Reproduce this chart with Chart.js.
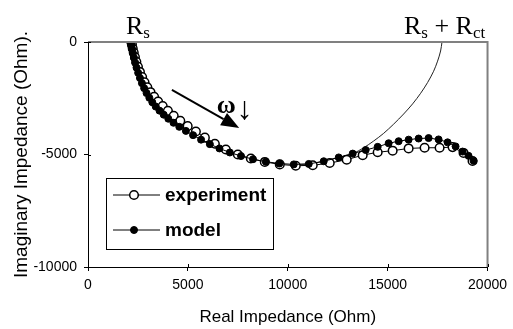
<!DOCTYPE html>
<html>
<head>
<meta charset="utf-8">
<script src="https://cdn.jsdelivr.net/npm/chart.js@4.4.0/dist/chart.umd.min.js"></script>
<style>
  html, body { margin: 0; padding: 0; background: #fff; }
  #wrap { width: 513px; height: 329px; }
</style>
</head>
<body>
<div id="wrap"><canvas id="chart" width="513" height="329"></canvas></div>
<script>
// Nyquist plot, impedance in Ohm
var expRe = [2170, 2200, 2240, 2290, 2350, 2420, 2500, 2600, 2710, 2830, 2970, 3130, 3310, 3510, 3740, 4000, 4290, 4620, 4990, 5400,
             5850, 6350, 6900, 7500, 8150, 8850, 9600, 10400, 11250, 12100, 12950, 13750, 14500, 15250, 16050, 16850, 17600, 18250, 18800, 19250];
var expIm = [0, -130, -290, -470, -670, -880, -1100, -1330, -1560, -1790, -2010, -2230, -2440, -2650, -2850, -3060, -3280, -3500, -3740, -3980,
             -4250, -4520, -4780, -5000, -5180, -5330, -5440, -5500, -5480, -5380, -5230, -5030, -4900, -4830, -4730, -4700, -4700, -4670, -4930, -5290];

var modelRe = [2150, 2180, 2210, 2250, 2300, 2360, 2430, 2510, 2600, 2700, 2810, 2930, 3070, 3220, 3390, 3580, 3790, 4020, 4280, 4570,
               4900, 5260, 5660, 6100, 6580, 7100, 7660, 8260, 8900, 9580, 10300, 11050, 11800, 12550, 13250, 13900, 14500, 15050, 15550, 16050,
               16550, 17050, 17550, 18000, 18400, 18750, 19050, 19300];
var modelIm = [0, -150, -320, -500, -700, -920, -1140, -1370, -1600, -1830, -2050, -2270, -2480, -2680, -2870, -3050, -3230, -3410, -3590, -3770,
               -3950, -4140, -4340, -4540, -4730, -4910, -5070, -5210, -5320, -5400, -5440, -5420, -5300, -5130, -4960, -4800, -4660, -4500, -4410, -4340,
               -4290, -4270, -4330, -4460, -4640, -4870, -5060, -5280];

// thin arc running up to Rs + Rct
var arcRe = [10300, 11050, 11800, 12550, 13250, 13800, 14300, 14800, 15300, 15800, 16250, 16650, 17000, 17300, 17500, 17650, 17720];
var arcIm = [-5440, -5420, -5300, -5130, -4960, -4700, -4400, -4060, -3650, -3200, -2750, -2280, -1800, -1300, -850, -400, 0];

var xTicks = [0, 5000, 10000, 15000, 20000];
var yTicks = [0, -5000, -10000];

var SANS = '"Liberation Sans", Arial, sans-serif';
var SERIF = '"Liberation Serif", "Times New Roman", serif';

function toPoints(xs, ys) {
    return xs.map(function(x, i) { return { x: x, y: ys[i] }; });
}

function fixTicks(list) {
    return function(scale) {
        scale.ticks = list.map(function(v) { return { value: v }; });
    };
}

// text with subscripts, parts = [[text, isSub], ...]
function drawSubText(ctx, x, y, parts) {
    ctx.textAlign = "left";
    ctx.textBaseline = "alphabetic";
    parts.forEach(function(p) {
        ctx.font = (p[1] ? "17px " : "26px ") + SERIF;
        ctx.fillText(p[0], x, y + (p[1] ? 4 : 0));
        x += ctx.measureText(p[0]).width;
    });
}

var extras = {
    id: "extras",
    afterDatasetsDraw: function(chart) {
        var ctx = chart.ctx, a = chart.chartArea;
        var xs = chart.scales.x, ys = chart.scales.y;
        ctx.save();

        // grey plot frame, top and right
        ctx.strokeStyle = "#808080";
        ctx.lineWidth = 2;
        ctx.beginPath();
        ctx.moveTo(a.left, a.top);
        ctx.lineTo(a.right, a.top);
        ctx.lineTo(a.right, a.bottom);
        ctx.stroke();

        // tick marks cross the axes
        ctx.strokeStyle = "#000";
        ctx.lineWidth = 1;
        ctx.beginPath();
        xTicks.forEach(function(v) {
            var px = Math.round(xs.getPixelForValue(v)) + 0.5;
            ctx.moveTo(px, a.bottom - 3);
            ctx.lineTo(px, a.bottom);
        });
        yTicks.forEach(function(v) {
            var py = Math.round(ys.getPixelForValue(v)) + 0.5;
            ctx.moveTo(a.left, py);
            ctx.lineTo(a.left + 3, py);
        });
        ctx.stroke();

        // legend box
        var lx = a.left + 18, ly = a.top + 136, lw = 167, lh = 71;
        ctx.fillStyle = "#fff";
        ctx.fillRect(lx, ly, lw, lh);
        ctx.strokeStyle = "#000";
        ctx.lineWidth = 1;
        ctx.strokeRect(lx + 0.5, ly + 0.5, lw, lh);
        var entries = [chart.data.datasets[1], chart.data.datasets[0]];
        entries.forEach(function(ds, i) {
            var y = ly + 17 + i * 35;
            ctx.strokeStyle = ds.borderColor;
            ctx.lineWidth = 1;
            ctx.beginPath();
            ctx.moveTo(lx + 7, y);
            ctx.lineTo(lx + 54, y);
            ctx.stroke();
            ctx.beginPath();
            ctx.arc(lx + 28, y, ds.pointRadius, 0, Math.PI * 2);
            ctx.fillStyle = ds.pointBackgroundColor;
            ctx.fill();
            ctx.lineWidth = ds.pointBorderWidth;
            ctx.strokeStyle = ds.pointBorderColor;
            ctx.stroke();
            ctx.fillStyle = "#000";
            ctx.font = "bold 19px " + SANS;
            ctx.textAlign = "left";
            ctx.textBaseline = "middle";
            ctx.fillText(ds.label, lx + 59, y + 1);
        });

        // Rs and Rs + Rct labels
        ctx.fillStyle = "#000";
        drawSubText(ctx, xs.getPixelForValue(modelRe[0]) - 5, a.top - 8, [["R", 0], ["s", 1]]);
        drawSubText(ctx, xs.getPixelForValue(arcRe[arcRe.length - 1]) - 38, a.top - 8,
                    [["R", 0], ["s", 1], [" + ", 0], ["R", 0], ["ct", 1]]);

        // frequency arrow
        var x0 = xs.getPixelForValue(4200), y0 = ys.getPixelForValue(-2130);
        var x1 = xs.getPixelForValue(7570), y1 = ys.getPixelForValue(-3820);
        var ang = Math.atan2(y1 - y0, x1 - x0);
        var hl = 18, hw = 7;
        ctx.strokeStyle = "#000";
        ctx.lineWidth = 2;
        ctx.beginPath();
        ctx.moveTo(x0, y0);
        ctx.lineTo(x1 - hl * Math.cos(ang), y1 - hl * Math.sin(ang));
        ctx.stroke();
        ctx.beginPath();
        ctx.moveTo(x1, y1);
        ctx.lineTo(x1 - hl * Math.cos(ang) + hw * Math.sin(ang), y1 - hl * Math.sin(ang) - hw * Math.cos(ang));
        ctx.lineTo(x1 - hl * Math.cos(ang) - hw * Math.sin(ang), y1 - hl * Math.sin(ang) + hw * Math.cos(ang));
        ctx.closePath();
        ctx.fillStyle = "#000";
        ctx.fill();

        // omega with down arrow
        var wx = xs.getPixelForValue(6450), wy = ys.getPixelForValue(-3155);
        ctx.textAlign = "left";
        ctx.textBaseline = "alphabetic";
        ctx.font = "bold 26px " + SERIF;
        ctx.fillText("ω", wx, wy);
        var ww = ctx.measureText("ω").width;
        ctx.font = "32px " + SERIF;
        ctx.fillText("↓", wx + ww + 1, wy + 6);

        ctx.restore();
    }
};

new Chart(document.getElementById("chart"), {
    type: "scatter",
    data: {
        datasets: [{
            label: "model",
            data: toPoints(modelRe, modelIm),
            showLine: true,
            borderColor: "#000",
            borderWidth: 1,
            pointRadius: 3.5,
            pointBackgroundColor: "#000",
            pointBorderColor: "#000",
            pointBorderWidth: 1,
            order: 0
        }, {
            label: "experiment",
            data: toPoints(expRe, expIm),
            showLine: true,
            borderColor: "#000",
            borderWidth: 1,
            pointRadius: 4.3,
            pointBackgroundColor: "#fff",
            pointBorderColor: "#000",
            pointBorderWidth: 1.5,
            order: 1
        }, {
            label: "arc",
            data: toPoints(arcRe, arcIm),
            showLine: true,
            borderColor: "#222",
            borderWidth: 1,
            pointRadius: 0,
            tension: 0.3,
            order: 2
        }]
    },
    options: {
        responsive: false,
        animation: false,
        layout: { padding: { top: 42, right: 21, left: 0, bottom: 0 } },
        plugins: {
            legend: { display: false },
            tooltip: { enabled: false }
        },
        scales: {
            x: {
                type: "linear",
                position: "bottom",
                min: 0,
                max: 20000,
                afterBuildTicks: fixTicks(xTicks),
                afterFit: function(s) { s.height = 62; },
                border: { color: "#000", width: 1 },
                grid: { drawOnChartArea: false, drawTicks: true, tickLength: 4, color: "#000" },
                ticks: {
                    color: "#000",
                    padding: 6,
                    maxRotation: 0,
                    font: { family: SANS, size: 14 },
                    callback: function(v) { return String(v); }
                },
                title: {
                    display: true,
                    text: "Real Impedance (Ohm)",
                    color: "#000",
                    font: { family: SANS, size: 17 },
                    padding: { top: 0, bottom: 1 }
                }
            },
            y: {
                type: "linear",
                min: -10000,
                max: 0,
                afterBuildTicks: fixTicks(yTicks),
                afterFit: function(s) { s.width = 88; },
                border: { color: "#000", width: 1 },
                grid: { drawOnChartArea: false, drawTicks: true, tickLength: 4, color: "#000" },
                ticks: {
                    color: "#000",
                    padding: 7,
                    font: { family: SANS, size: 14 },
                    callback: function(v) { return String(v); }
                },
                title: {
                    display: true,
                    text: "Imaginary Impedance (Ohm).",
                    color: "#000",
                    font: { family: SANS, size: 19 },
                    padding: { top: 10, bottom: 0 }
                }
            }
        }
    },
    plugins: [extras]
});
</script>
</body>
</html>
